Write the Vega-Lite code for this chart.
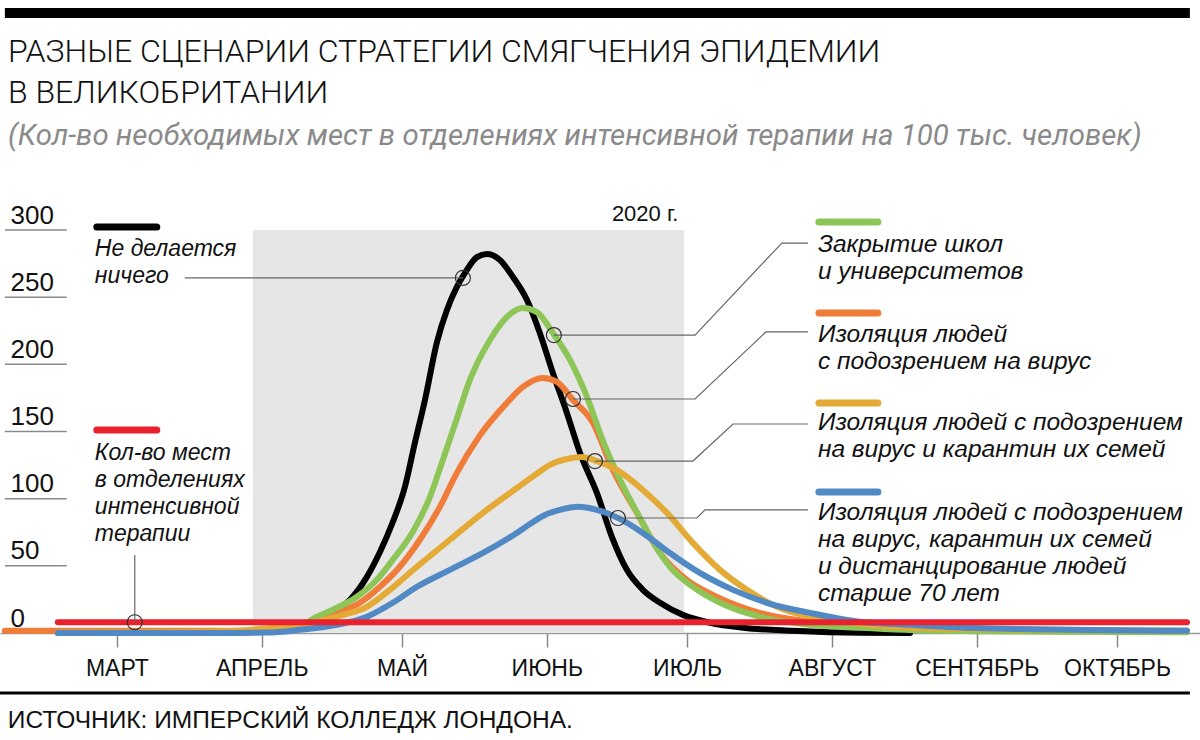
{
  "$schema": "https://vega.github.io/schema/vega-lite/v6.json",
  "autosize": {"type": "none"},
  "width": 1200,
  "height": 403,
  "padding": {"left": 0, "right": 0, "top": 230, "bottom": 107},
  "background": "white",
  "config": {"view": {"stroke": null}},
  "title": {
    "text": ["РАЗНЫЕ СЦЕНАРИИ СТРАТЕГИИ СМЯГЧЕНИЯ ЭПИДЕМИИ", "В ВЕЛИКОБРИТАНИИ"],
    "subtitle": "(Кол-во необходимых мест в отделениях интенсивной терапии на 100 тыс. человек)",
    "anchor": "start",
    "frame": "group",
    "offset": -143,
    "dx": 8,
    "font": "Roboto",
    "fontSize": 32,
    "fontWeight": 300,
    "color": "#111111",
    "lineHeight": 41,
    "subtitleFont": "Roboto",
    "subtitleFontSize": 29.4,
    "subtitleFontStyle": "italic",
    "subtitleFontWeight": 400,
    "subtitleColor": "#8a8a8a",
    "subtitlePadding": 12
  },
  "datasets": {
    "curves": [
      {"s": "nothing", "date": "2020-02-17T09:00:00Z", "v": 0},
      {"s": "nothing", "date": "2020-03-18T18:00:00Z", "v": 0},
      {"s": "nothing", "date": "2020-03-31T14:00:00Z", "v": 0.9},
      {"s": "nothing", "date": "2020-04-09T04:00:00Z", "v": 3.9},
      {"s": "nothing", "date": "2020-04-12T19:00:00Z", "v": 11.3},
      {"s": "nothing", "date": "2020-04-16T05:00:00Z", "v": 15.8},
      {"s": "nothing", "date": "2020-04-19T21:00:00Z", "v": 24.7},
      {"s": "nothing", "date": "2020-04-23T12:00:00Z", "v": 41.8},
      {"s": "nothing", "date": "2020-04-26T07:00:00Z", "v": 60.3},
      {"s": "nothing", "date": "2020-04-29T01:00:00Z", "v": 82.6},
      {"s": "nothing", "date": "2020-05-01T15:00:00Z", "v": 108.7},
      {"s": "nothing", "date": "2020-05-03T18:00:00Z", "v": 141.4},
      {"s": "nothing", "date": "2020-05-05T22:00:00Z", "v": 173.4},
      {"s": "nothing", "date": "2020-05-08T12:00:00Z", "v": 216.7},
      {"s": "nothing", "date": "2020-05-10T15:00:00Z", "v": 240.4},
      {"s": "nothing", "date": "2020-05-12T18:00:00Z", "v": 257.6},
      {"s": "nothing", "date": "2020-05-14T11:00:00Z", "v": 267.9},
      {"s": "nothing", "date": "2020-05-17T01:00:00Z", "v": 279.8},
      {"s": "nothing", "date": "2020-05-19T04:00:00Z", "v": 282.1},
      {"s": "nothing", "date": "2020-05-21T23:00:00Z", "v": 277.7},
      {"s": "nothing", "date": "2020-05-24T18:00:00Z", "v": 265.0},
      {"s": "nothing", "date": "2020-05-27T18:00:00Z", "v": 247.9},
      {"s": "nothing", "date": "2020-05-30T12:00:00Z", "v": 223.4},
      {"s": "nothing", "date": "2020-06-02T07:00:00Z", "v": 193.6},
      {"s": "nothing", "date": "2020-06-05T07:00:00Z", "v": 163.8},
      {"s": "nothing", "date": "2020-06-08T02:00:00Z", "v": 134.1},
      {"s": "nothing", "date": "2020-06-11T17:00:00Z", "v": 104.3},
      {"s": "nothing", "date": "2020-06-14T22:00:00Z", "v": 71.6},
      {"s": "nothing", "date": "2020-06-18T03:00:00Z", "v": 47.0},
      {"s": "nothing", "date": "2020-06-21T13:00:00Z", "v": 32.1},
      {"s": "nothing", "date": "2020-06-25T05:00:00Z", "v": 22.5},
      {"s": "nothing", "date": "2020-06-30T03:00:00Z", "v": 13.5},
      {"s": "nothing", "date": "2020-07-05T22:00:00Z", "v": 7.6},
      {"s": "nothing", "date": "2020-07-12T23:00:00Z", "v": 3.9},
      {"s": "nothing", "date": "2020-07-23T16:00:00Z", "v": 1.6},
      {"s": "nothing", "date": "2020-08-07T00:00:00Z", "v": 0.1},
      {"s": "nothing", "date": "2020-08-17T17:00:00Z", "v": 0},

      {"s": "isolation", "date": "2020-02-06T01:00:00Z", "v": 1.6},
      {"s": "isolation", "date": "2020-02-17T09:00:00Z", "v": 1.6},
      {"s": "isolation", "date": "2020-03-27T08:00:00Z", "v": 1.6},
      {"s": "isolation", "date": "2020-04-04T21:00:00Z", "v": 3.1},
      {"s": "isolation", "date": "2020-04-12T19:00:00Z", "v": 9.8},
      {"s": "isolation", "date": "2020-04-17T02:00:00Z", "v": 15.0},
      {"s": "isolation", "date": "2020-04-22T00:00:00Z", "v": 22.5},
      {"s": "isolation", "date": "2020-04-26T07:00:00Z", "v": 34.4},
      {"s": "isolation", "date": "2020-04-30T13:00:00Z", "v": 49.3},
      {"s": "isolation", "date": "2020-05-04T20:00:00Z", "v": 69.4},
      {"s": "isolation", "date": "2020-05-09T03:00:00Z", "v": 93.9},
      {"s": "isolation", "date": "2020-05-12T18:00:00Z", "v": 119.2},
      {"s": "isolation", "date": "2020-05-17T11:00:00Z", "v": 146.0},
      {"s": "isolation", "date": "2020-05-23T11:00:00Z", "v": 171.3},
      {"s": "isolation", "date": "2020-05-26T21:00:00Z", "v": 183.2},
      {"s": "isolation", "date": "2020-05-31T04:00:00Z", "v": 189.9},
      {"s": "isolation", "date": "2020-06-03T04:00:00Z", "v": 186.9},
      {"s": "isolation", "date": "2020-06-06T14:00:00Z", "v": 173.5},
      {"s": "isolation", "date": "2020-06-10T21:00:00Z", "v": 156.4},
      {"s": "isolation", "date": "2020-06-15T03:00:00Z", "v": 121.4},
      {"s": "isolation", "date": "2020-06-20T07:00:00Z", "v": 89.4},
      {"s": "isolation", "date": "2020-06-25T05:00:00Z", "v": 59.6},
      {"s": "isolation", "date": "2020-06-30T23:00:00Z", "v": 39.5},
      {"s": "isolation", "date": "2020-07-07T10:00:00Z", "v": 26.9},
      {"s": "isolation", "date": "2020-07-16T14:00:00Z", "v": 15.0},
      {"s": "isolation", "date": "2020-07-27T07:00:00Z", "v": 8.3},
      {"s": "isolation", "date": "2020-08-07T00:00:00Z", "v": 4.6},
      {"s": "isolation", "date": "2020-08-24T02:00:00Z", "v": 2.4},
      {"s": "isolation", "date": "2020-10-15T23:00:00Z", "v": 1.6},

      {"s": "schools", "date": "2020-02-17T09:00:00Z", "v": 0},
      {"s": "schools", "date": "2020-03-18T18:00:00Z", "v": 0},
      {"s": "schools", "date": "2020-03-31T14:00:00Z", "v": 1.6},
      {"s": "schools", "date": "2020-04-09T04:00:00Z", "v": 5.4},
      {"s": "schools", "date": "2020-04-12T19:00:00Z", "v": 12.1},
      {"s": "schools", "date": "2020-04-16T05:00:00Z", "v": 17.3},
      {"s": "schools", "date": "2020-04-21T09:00:00Z", "v": 27.0},
      {"s": "schools", "date": "2020-04-25T15:00:00Z", "v": 39.6},
      {"s": "schools", "date": "2020-04-29T01:00:00Z", "v": 54.5},
      {"s": "schools", "date": "2020-05-03T08:00:00Z", "v": 75.4},
      {"s": "schools", "date": "2020-05-06T23:00:00Z", "v": 101.0},
      {"s": "schools", "date": "2020-05-09T18:00:00Z", "v": 128.8},
      {"s": "schools", "date": "2020-05-12T18:00:00Z", "v": 159.7},
      {"s": "schools", "date": "2020-05-15T13:00:00Z", "v": 188.4},
      {"s": "schools", "date": "2020-05-19T20:00:00Z", "v": 218.1},
      {"s": "schools", "date": "2020-05-23T11:00:00Z", "v": 235.2},
      {"s": "schools", "date": "2020-05-26T21:00:00Z", "v": 241.9},
      {"s": "schools", "date": "2020-05-29T21:00:00Z", "v": 238.9},
      {"s": "schools", "date": "2020-06-02T07:00:00Z", "v": 223.4},
      {"s": "schools", "date": "2020-06-05T23:00:00Z", "v": 203.3},
      {"s": "schools", "date": "2020-06-09T14:00:00Z", "v": 175.7},
      {"s": "schools", "date": "2020-06-13T00:00:00Z", "v": 143.0},
      {"s": "schools", "date": "2020-06-17T02:00:00Z", "v": 111.0},
      {"s": "schools", "date": "2020-06-20T22:00:00Z", "v": 85.7},
      {"s": "schools", "date": "2020-06-24T03:00:00Z", "v": 65.5},
      {"s": "schools", "date": "2020-06-27T08:00:00Z", "v": 49.2},
      {"s": "schools", "date": "2020-07-02T06:00:00Z", "v": 34.3},
      {"s": "schools", "date": "2020-07-08T01:00:00Z", "v": 22.5},
      {"s": "schools", "date": "2020-07-16T14:00:00Z", "v": 12.1},
      {"s": "schools", "date": "2020-07-27T07:00:00Z", "v": 6.1},
      {"s": "schools", "date": "2020-08-07T00:00:00Z", "v": 3.9},
      {"s": "schools", "date": "2020-08-24T02:00:00Z", "v": 1.6},
      {"s": "schools", "date": "2020-09-16T16:00:00Z", "v": 0.9},
      {"s": "schools", "date": "2020-10-15T23:00:00Z", "v": 0.5},

      {"s": "quarantine", "date": "2020-02-17T09:00:00Z", "v": 0.4},
      {"s": "quarantine", "date": "2020-03-18T18:00:00Z", "v": 0.9},
      {"s": "quarantine", "date": "2020-04-05T12:00:00Z", "v": 4.6},
      {"s": "quarantine", "date": "2020-04-12T19:00:00Z", "v": 8.3},
      {"s": "quarantine", "date": "2020-04-18T09:00:00Z", "v": 13.5},
      {"s": "quarantine", "date": "2020-04-23T12:00:00Z", "v": 19.5},
      {"s": "quarantine", "date": "2020-04-28T10:00:00Z", "v": 32.1},
      {"s": "quarantine", "date": "2020-05-04T05:00:00Z", "v": 49.3},
      {"s": "quarantine", "date": "2020-05-11T06:00:00Z", "v": 69.4},
      {"s": "quarantine", "date": "2020-05-18T08:00:00Z", "v": 89.4},
      {"s": "quarantine", "date": "2020-05-25T14:00:00Z", "v": 107.9},
      {"s": "quarantine", "date": "2020-05-29T11:00:00Z", "v": 117.6},
      {"s": "quarantine", "date": "2020-06-01T16:00:00Z", "v": 125.1},
      {"s": "quarantine", "date": "2020-06-05T07:00:00Z", "v": 129.5},
      {"s": "quarantine", "date": "2020-06-08T12:00:00Z", "v": 131.0},
      {"s": "quarantine", "date": "2020-06-11T17:00:00Z", "v": 128.0},
      {"s": "quarantine", "date": "2020-06-16T00:00:00Z", "v": 121.4},
      {"s": "quarantine", "date": "2020-06-21T13:00:00Z", "v": 106.5},
      {"s": "quarantine", "date": "2020-06-26T17:00:00Z", "v": 89.4},
      {"s": "quarantine", "date": "2020-07-02T06:00:00Z", "v": 67.1},
      {"s": "quarantine", "date": "2020-07-08T01:00:00Z", "v": 47.0},
      {"s": "quarantine", "date": "2020-07-13T20:00:00Z", "v": 32.1},
      {"s": "quarantine", "date": "2020-07-20T06:00:00Z", "v": 19.5},
      {"s": "quarantine", "date": "2020-07-27T07:00:00Z", "v": 12.1},
      {"s": "quarantine", "date": "2020-08-03T09:00:00Z", "v": 8.3},
      {"s": "quarantine", "date": "2020-08-11T07:00:00Z", "v": 5.4},
      {"s": "quarantine", "date": "2020-08-26T06:00:00Z", "v": 3.1},
      {"s": "quarantine", "date": "2020-10-15T23:00:00Z", "v": 1.6},

      {"s": "distancing", "date": "2020-02-17T09:00:00Z", "v": 0},
      {"s": "distancing", "date": "2020-03-18T18:00:00Z", "v": 0},
      {"s": "distancing", "date": "2020-04-02T02:00:00Z", "v": 0.3},
      {"s": "distancing", "date": "2020-04-09T04:00:00Z", "v": 2.4},
      {"s": "distancing", "date": "2020-04-17T02:00:00Z", "v": 6.1},
      {"s": "distancing", "date": "2020-04-23T12:00:00Z", "v": 12.1},
      {"s": "distancing", "date": "2020-04-29T01:00:00Z", "v": 22.5},
      {"s": "distancing", "date": "2020-05-04T05:00:00Z", "v": 34.4},
      {"s": "distancing", "date": "2020-05-11T06:00:00Z", "v": 47.0},
      {"s": "distancing", "date": "2020-05-18T08:00:00Z", "v": 59.6},
      {"s": "distancing", "date": "2020-05-25T14:00:00Z", "v": 74.5},
      {"s": "distancing", "date": "2020-05-28T09:00:00Z", "v": 81.1},
      {"s": "distancing", "date": "2020-05-31T14:00:00Z", "v": 87.9},
      {"s": "distancing", "date": "2020-06-03T19:00:00Z", "v": 91.6},
      {"s": "distancing", "date": "2020-06-07T16:00:00Z", "v": 93.9},
      {"s": "distancing", "date": "2020-06-11T17:00:00Z", "v": 91.6},
      {"s": "distancing", "date": "2020-06-16T05:00:00Z", "v": 85.7},
      {"s": "distancing", "date": "2020-06-21T13:00:00Z", "v": 74.5},
      {"s": "distancing", "date": "2020-06-27T08:00:00Z", "v": 59.6},
      {"s": "distancing", "date": "2020-07-03T18:00:00Z", "v": 44.7},
      {"s": "distancing", "date": "2020-07-10T20:00:00Z", "v": 32.1},
      {"s": "distancing", "date": "2020-07-18T02:00:00Z", "v": 22.5},
      {"s": "distancing", "date": "2020-07-27T07:00:00Z", "v": 15.0},
      {"s": "distancing", "date": "2020-08-07T00:00:00Z", "v": 8.3},
      {"s": "distancing", "date": "2020-08-17T17:00:00Z", "v": 6.1},
      {"s": "distancing", "date": "2020-08-31T04:00:00Z", "v": 3.7},
      {"s": "distancing", "date": "2020-10-15T23:00:00Z", "v": 1.6},

      {"s": "capacity", "date": "2020-02-17T09:00:00Z", "v": 8},
      {"s": "capacity", "date": "2020-10-15T23:00:00Z", "v": 8}
    ],
    "keys": [
      {"s": "nothing", "date": "2020-02-25T17:00:00Z", "date2": "2020-03-09T13:00:00Z", "v": 302.2},
      {"s": "capacity", "date": "2020-02-25T17:00:00Z", "date2": "2020-03-09T13:00:00Z", "v": 151.1},
      {"s": "schools", "date": "2020-07-29T05:00:00Z", "date2": "2020-08-10T20:00:00Z", "v": 306.0},
      {"s": "isolation", "date": "2020-07-29T05:00:00Z", "date2": "2020-08-10T20:00:00Z", "v": 238.2},
      {"s": "quarantine", "date": "2020-07-29T05:00:00Z", "date2": "2020-08-10T20:00:00Z", "v": 171.2},
      {"s": "distancing", "date": "2020-07-29T05:00:00Z", "date2": "2020-08-10T20:00:00Z", "v": 105.0}
    ],
    "labels": [
      {"s": "nothing", "side": "left", "date": "2020-02-25T07:00:00Z", "v": 280.7, "text": "Не делается\nничего"},
      {"s": "capacity", "side": "left", "date": "2020-02-25T07:00:00Z", "v": 128.8, "text": "Кол-во мест\nв отделениях\nинтенсивной\nтерапии"},
      {"s": "schools", "side": "right", "date": "2020-07-29T00:00:00Z", "v": 283.6, "text": "Закрытие школ\nи университетов"},
      {"s": "isolation", "side": "right", "date": "2020-07-29T00:00:00Z", "v": 216.7, "text": "Изоляция людей\nс подозрением на вирус"},
      {"s": "quarantine", "side": "right", "date": "2020-07-29T00:00:00Z", "v": 151.1, "text": "Изоляция людей с подозрением\nна вирус и карантин их семей"},
      {"s": "distancing", "side": "right", "date": "2020-07-29T00:00:00Z", "v": 84.1, "text": "Изоляция людей с подозрением\nна вирус, карантин их семей\nи дистанцирование людей\nстарше 70 лет"}
    ],
    "leaders": [
      {"s": "nothing", "o": 1, "date": "2020-05-14T01:00:00Z", "v": 264.3},
      {"s": "nothing", "o": 2, "date": "2020-03-15T13:00:00Z", "v": 264.3},
      {"s": "schools", "o": 1, "date": "2020-06-02T12:00:00Z", "v": 221.8},
      {"s": "schools", "o": 2, "date": "2020-07-02T17:00:00Z", "v": 221.8},
      {"s": "schools", "o": 3, "date": "2020-07-21T07:00:00Z", "v": 290.3},
      {"s": "schools", "o": 4, "date": "2020-07-26T21:00:00Z", "v": 290.3},
      {"s": "isolation", "o": 1, "date": "2020-06-06T14:00:00Z", "v": 174.2},
      {"s": "isolation", "o": 2, "date": "2020-07-02T17:00:00Z", "v": 174.2},
      {"s": "isolation", "o": 3, "date": "2020-07-17T21:00:00Z", "v": 224.1},
      {"s": "isolation", "o": 4, "date": "2020-07-26T21:00:00Z", "v": 224.1},
      {"s": "quarantine", "o": 1, "date": "2020-06-11T07:00:00Z", "v": 128.0},
      {"s": "quarantine", "o": 2, "date": "2020-07-02T06:00:00Z", "v": 128.0},
      {"s": "quarantine", "o": 3, "date": "2020-07-10T20:00:00Z", "v": 155.6},
      {"s": "quarantine", "o": 4, "date": "2020-07-26T21:00:00Z", "v": 155.6},
      {"s": "distancing", "o": 1, "date": "2020-06-16T05:00:00Z", "v": 85.6},
      {"s": "distancing", "o": 2, "date": "2020-07-03T03:00:00Z", "v": 85.6},
      {"s": "distancing", "o": 3, "date": "2020-07-04T20:00:00Z", "v": 91.6},
      {"s": "distancing", "o": 4, "date": "2020-07-26T21:00:00Z", "v": 91.6},
      {"s": "capacity", "o": 1, "date": "2020-03-04T20:00:00Z", "v": 8},
      {"s": "capacity", "o": 2, "date": "2020-03-04T20:00:00Z", "v": 58.1}
    ]
  },
  "encoding": {
    "x": {
      "field": "date",
      "type": "temporal",
      "scale": {
        "type": "utc",
        "nice": false,
        "domain": [
          {"year": 2020, "month": 2, "date": 5, "utc": true},
          {"year": 2020, "month": 10, "date": 18, "hours": 18, "utc": true}
        ]
      },
      "axis": {
        "title": null,
        "grid": false,
        "values": [
          {"year": 2020, "month": 3, "date": 1, "utc": true},
          {"year": 2020, "month": 4, "date": 1, "utc": true},
          {"year": 2020, "month": 5, "date": 1, "utc": true},
          {"year": 2020, "month": 6, "date": 1, "utc": true},
          {"year": 2020, "month": 7, "date": 1, "utc": true},
          {"year": 2020, "month": 8, "date": 1, "utc": true},
          {"year": 2020, "month": 9, "date": 1, "utc": true},
          {"year": 2020, "month": 10, "date": 1, "utc": true}
        ],
        "labelExpr": "['ЯНВАРЬ','ФЕВРАЛЬ','МАРТ','АПРЕЛЬ','МАЙ','ИЮНЬ','ИЮЛЬ','АВГУСТ','СЕНТЯБРЬ','ОКТЯБРЬ','НОЯБРЬ','ДЕКАБРЬ'][utcmonth(datum.value)]",
        "labelFont": "Liberation Sans",
        "labelFontSize": 23,
        "labelColor": "#111111",
        "labelPadding": 10,
        "labelFlush": false,
        "labelOverlap": false,
        "tickSize": 14,
        "tickColor": "#888888",
        "tickWidth": 1.5,
        "domainColor": "#999999",
        "domainWidth": 1.5
      }
    },
    "y": {
      "field": "v",
      "type": "quantitative",
      "scale": {"domain": [0, 300], "nice": false, "zero": false},
      "axis": {
        "title": null,
        "grid": false,
        "domain": false,
        "ticks": false,
        "values": [0, 50, 100, 150, 200, 250, 300],
        "labelAlign": "left",
        "labelBaseline": "alphabetic",
        "labelPadding": -10,
        "labelOffset": -7,
        "labelFont": "Liberation Sans",
        "labelFontSize": 26,
        "labelColor": "#111111"
      }
    }
  },
  "layer": [
    {
      "data": {"values": [{"date": "2020-03-30T02:00:00Z", "date2": "2020-06-30T08:00:00Z", "v": 0, "v2": 300}]},
      "mark": {"type": "rect", "color": "#e6e6e6"},
      "encoding": {
        "x2": {"field": "date2"},
        "y2": {"field": "v2"}
      }
    },
    {
      "data": {"values": [{"date": "2020-02-06T01:00:00Z", "date2": "2020-10-16T14:00:00Z", "v": 461.5}]},
      "mark": {"type": "rule", "color": "#000000", "strokeWidth": 10},
      "encoding": {"x2": {"field": "date2"}}
    },
    {
      "data": {"values": [{"date": "2020-02-05T00:00:00Z", "date2": "2020-10-16T14:00:00Z", "v": -44.7}]},
      "mark": {"type": "rule", "color": "#000000", "strokeWidth": 3},
      "encoding": {"x2": {"field": "date2"}}
    },
    {
      "data": {"values": [
        {"v": 50, "date": "2020-02-06T01:00:00Z", "date2": "2020-02-19T07:00:00Z"},
        {"v": 100, "date": "2020-02-06T01:00:00Z", "date2": "2020-02-19T07:00:00Z"},
        {"v": 150, "date": "2020-02-06T01:00:00Z", "date2": "2020-02-19T07:00:00Z"},
        {"v": 200, "date": "2020-02-06T01:00:00Z", "date2": "2020-02-19T07:00:00Z"},
        {"v": 250, "date": "2020-02-06T01:00:00Z", "date2": "2020-02-19T07:00:00Z"},
        {"v": 300, "date": "2020-02-06T01:00:00Z", "date2": "2020-02-19T07:00:00Z"}
      ]},
      "mark": {"type": "rule", "color": "#8a8a8a", "strokeWidth": 1.5},
      "encoding": {"x2": {"field": "date2"}}
    },
    {
      "data": {"name": "curves"},
      "mark": {"type": "line", "strokeWidth": 6, "strokeCap": "round", "strokeJoin": "round", "interpolate": "monotone"},
      "encoding": {
        "color": {
          "field": "s",
          "type": "nominal",
          "legend": null,
          "scale": {
            "domain": ["nothing", "isolation", "schools", "quarantine", "distancing", "capacity"],
            "range": ["#000000", "#ef7d39", "#8dc556", "#e3aa35", "#5089c3", "#e9202e"]
          }
        }
      }
    },
    {
      "data": {"name": "keys"},
      "mark": {"type": "rule", "strokeWidth": 7, "strokeCap": "round"},
      "encoding": {
        "x2": {"field": "date2"},
        "color": {"field": "s", "type": "nominal", "legend": null}
      }
    },
    {
      "data": {"name": "leaders"},
      "mark": {"type": "line", "color": "#666666", "strokeWidth": 1.2, "interpolate": "linear"},
      "encoding": {
        "detail": {"field": "s"},
        "order": {"field": "o", "type": "quantitative"}
      }
    },
    {
      "data": {"name": "leaders"},
      "transform": [{"filter": "datum.o == 1"}],
      "mark": {"type": "point", "shape": "circle", "filled": false, "size": 225, "stroke": "#333333", "strokeWidth": 1.2, "opacity": 1}
    },
    {
      "data": {"name": "labels"},
      "transform": [{"filter": "datum.side == 'left'"}],
      "mark": {"type": "text", "align": "left", "baseline": "alphabetic", "font": "Liberation Sans", "fontStyle": "italic", "fontSize": 23, "lineHeight": 27, "lineBreak": "\n", "color": "#111111"},
      "encoding": {"text": {"field": "text"}}
    },
    {
      "data": {"name": "labels"},
      "transform": [{"filter": "datum.side == 'right'"}],
      "mark": {"type": "text", "align": "left", "baseline": "alphabetic", "font": "Liberation Sans", "fontStyle": "italic", "fontSize": 24.5, "lineHeight": 27, "lineBreak": "\n", "color": "#111111"},
      "encoding": {"text": {"field": "text"}}
    },
    {
      "data": {"values": [{"t": "2020 г.", "date": "2020-06-14T22:00:00Z", "v": 306.7}]},
      "mark": {"type": "text", "align": "left", "baseline": "alphabetic", "font": "Liberation Sans", "fontSize": 22, "color": "#111111"},
      "encoding": {"text": {"field": "t"}}
    },
    {
      "data": {"values": [{"t": "ИСТОЧНИК: ИМПЕРСКИЙ КОЛЛЕДЖ ЛОНДОНА.", "date": "2020-02-06T16:00:00Z", "v": -70.7}]},
      "mark": {"type": "text", "align": "left", "baseline": "alphabetic", "font": "Liberation Sans", "fontSize": 24.5, "color": "#111111"},
      "encoding": {"text": {"field": "t"}}
    }
  ]
}
